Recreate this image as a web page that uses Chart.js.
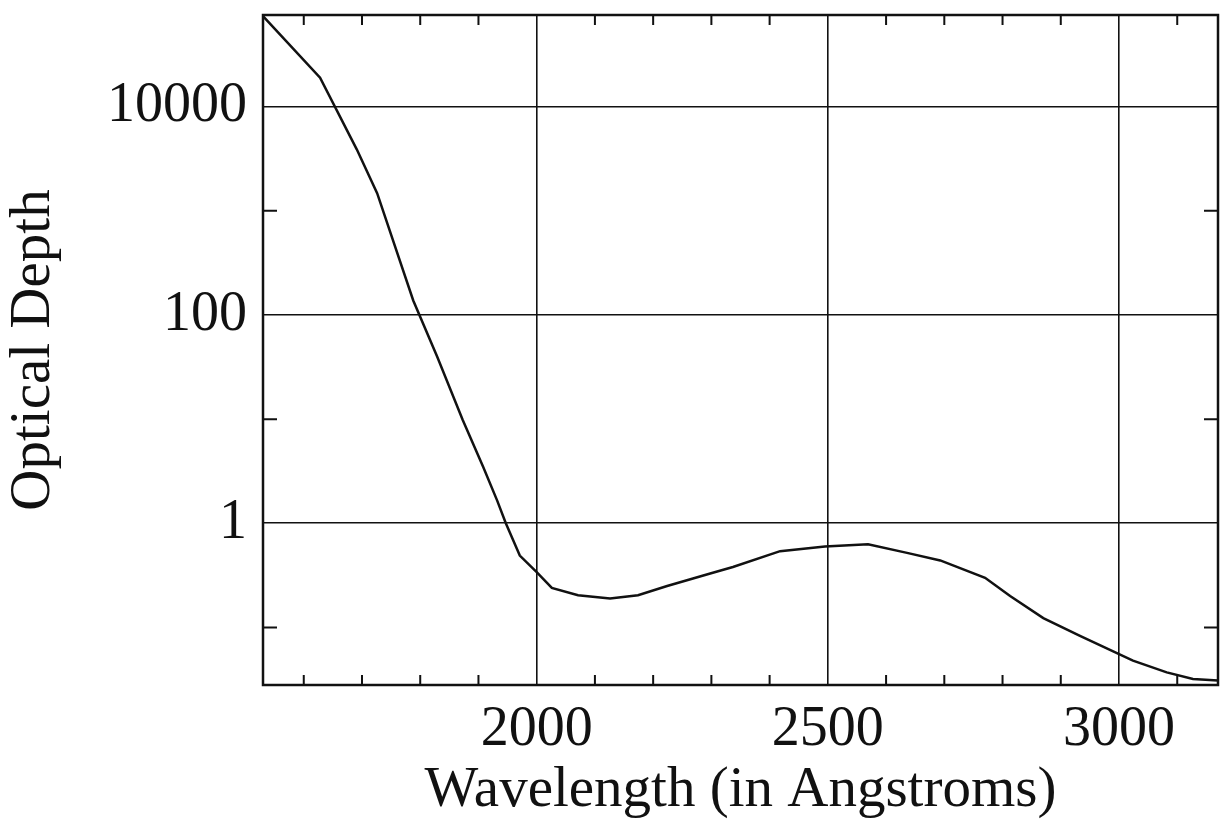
<!DOCTYPE html>
<html>
<head>
<meta charset="utf-8">
<script src="https://cdn.jsdelivr.net/npm/chart.js@4"></script>
<style>
  html, body { margin: 0; padding: 0; background: #fff; }
  #wrap { width: 1226px; height: 825px; }
</style>
</head>
<body>
<div id="wrap"><canvas id="grafico" width="1226" height="825"></canvas></div>
<script>
// wavelength (Angstroms) and optical depth
const wavelengths = [1530, 1628, 1691, 1726, 1788, 1829, 1873, 1908, 1932, 1947, 1971, 2000,
    2026, 2071, 2126, 2174, 2224, 2298, 2337, 2418, 2495, 2569, 2636, 2693, 2770, 2813,
    2870, 2933, 2990, 3024, 3082, 3127, 3170];
const opticalDepth = [74000, 19000, 3900, 1480, 138, 40, 9.8, 3.5, 1.66, 1.0, 0.49, 0.34,
    0.24, 0.204, 0.19, 0.204, 0.25, 0.33, 0.38, 0.54, 0.60, 0.63, 0.52, 0.44, 0.30, 0.20,
    0.123, 0.083, 0.059, 0.048, 0.037, 0.032, 0.031];

const xMajorTicks = [2000, 2500, 3000];
const xMinorTicks = [1600, 1700, 1800, 1900, 2100, 2200, 2300, 2400, 2600, 2700, 2800, 2900, 3100];
const yMajorTicks = [1, 100, 10000];
const yMinorTicks = [0.1, 10, 1000];

document.addEventListener("DOMContentLoaded", function () {

    const serif = "'Liberation Serif', 'DejaVu Serif', serif";

    // frame round the plot plus the small inward ticks
    const frame = {
        id: "frame",
        afterDraw(chart) {
            const ctx = chart.ctx;
            const a = chart.chartArea;
            const xs = chart.scales.x;
            const ys = chart.scales.y;
            ctx.save();
            ctx.strokeStyle = "#111";
            ctx.lineWidth = 2;
            ctx.beginPath();
            xMinorTicks.forEach(function (v) {
                const px = xs.getPixelForValue(v);
                ctx.moveTo(px, a.bottom); ctx.lineTo(px, a.bottom - 10);
                ctx.moveTo(px, a.top); ctx.lineTo(px, a.top + 10);
            });
            yMinorTicks.forEach(function (v) {
                const py = ys.getPixelForValue(v);
                ctx.moveTo(a.left, py); ctx.lineTo(a.left + 14, py);
                ctx.moveTo(a.right, py); ctx.lineTo(a.right - 14, py);
            });
            ctx.stroke();
            ctx.lineWidth = 2.5;
            ctx.strokeRect(a.left, a.top, a.right - a.left, a.bottom - a.top);
            ctx.restore();
        }
    };

    new Chart(document.getElementById("grafico"), {
        type: "line",
        data: {
            datasets: [{
                label: "Optical Depth",
                data: wavelengths.map(function (w, i) { return { x: w, y: opticalDepth[i] }; }),
                borderColor: "#111",
                borderWidth: 2.5,
                pointRadius: 0,
                tension: 0,
                fill: false
            }]
        },
        options: {
            responsive: false,
            animation: false,
            layout: { padding: { left: 0, right: 8, top: 15, bottom: 0 } },
            plugins: {
                legend: { display: false },
                tooltip: { enabled: false }
            },
            scales: {
                x: {
                    type: "linear",
                    min: 1530,
                    max: 3170,
                    afterBuildTicks: function (scale) {
                        scale.ticks = xMajorTicks.map(function (v) { return { value: v }; });
                    },
                    afterFit: function (scale) {
                        scale.height = 140;
                        scale.paddingLeft = 0;
                        scale.paddingRight = 0;
                    },
                    grid: { color: "#111", lineWidth: 1.6, drawTicks: false },
                    border: { display: false },
                    ticks: {
                        color: "#111",
                        padding: 12,
                        maxRotation: 0,
                        font: { family: serif, size: 56 },
                        callback: function (v) { return String(v); }
                    },
                    title: {
                        display: true,
                        text: "Wavelength (in Angstroms)",
                        color: "#111",
                        padding: 0,
                        font: { family: serif, size: 57 }
                    }
                },
                y: {
                    type: "logarithmic",
                    min: 0.028,
                    max: 76000,
                    afterBuildTicks: function (scale) {
                        scale.ticks = yMajorTicks.map(function (v) { return { value: v }; });
                    },
                    afterFit: function (scale) {
                        scale.width = 263;
                        scale.paddingTop = 0;
                        scale.paddingBottom = 0;
                    },
                    grid: { color: "#111", lineWidth: 1.6, drawTicks: false },
                    border: { display: false },
                    ticks: {
                        color: "#111",
                        padding: 16,
                        font: { family: serif, size: 56 },
                        callback: function (v) { return String(v); }
                    },
                    title: {
                        display: true,
                        text: "Optical Depth",
                        color: "#111",
                        padding: 0,
                        font: { family: serif, size: 57 }
                    }
                }
            }
        },
        plugins: [frame]
    });

});
</script>
</body>
</html>
